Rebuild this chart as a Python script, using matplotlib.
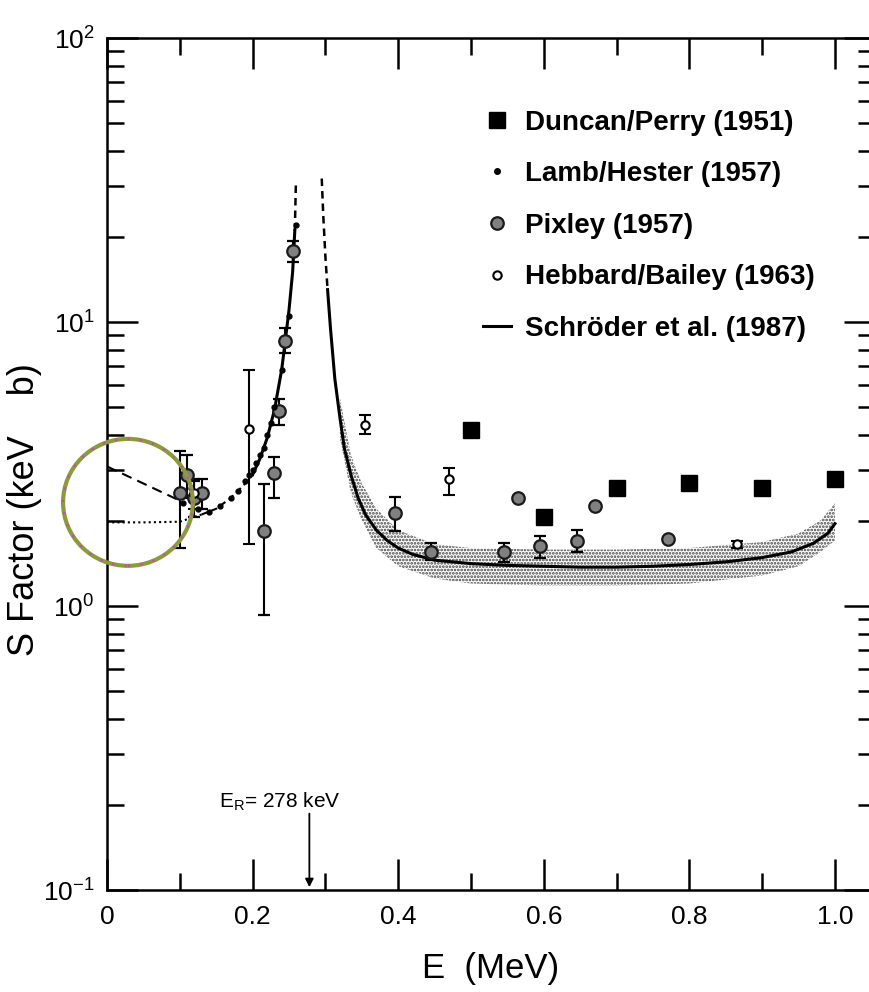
import matplotlib
matplotlib.use("Agg")
import matplotlib.pyplot as plt
from matplotlib.patches import Ellipse
from matplotlib.lines import Line2D
from matplotlib.ticker import MultipleLocator, LogLocator, NullFormatter

plt.rcParams['font.family'] = ['Liberation Sans', 'DejaVu Sans']
plt.rcParams['mathtext.default'] = 'regular'
plt.rcParams['hatch.linewidth'] = 1.3

# Duncan/Perry (1951)
duncan_E = [0.5, 0.6, 0.7, 0.8, 0.9, 1.0]
duncan_S = [4.15, 2.05, 2.6, 2.7, 2.6, 2.8]

# Lamb/Hester (1957)
lamb_E = [0.105, 0.115, 0.125, 0.14, 0.155, 0.17, 0.18, 0.19, 0.195, 0.2,
          0.205, 0.21, 0.215, 0.22, 0.225, 0.23, 0.24, 0.25, 0.26]
lamb_S = [2.3, 2.6, 2.2, 2.15, 2.25, 2.4, 2.55, 2.75, 2.9, 3.0,
          3.2, 3.4, 3.6, 4.0, 4.4, 5.0, 6.8, 10.5, 22.0]

# Pixley (1957)
pixley_E = [0.10, 0.11, 0.12, 0.13, 0.215, 0.229, 0.236, 0.245, 0.255,
            0.395, 0.445, 0.545, 0.565, 0.595, 0.645, 0.67, 0.77]
pixley_S = [2.5, 2.9, 2.4, 2.5, 1.83, 2.95, 4.85, 8.6, 17.8,
            2.12, 1.55, 1.55, 2.4, 1.62, 1.7, 2.25, 1.72]
pixley_lo = [0.9, 0.5, 0.35, 0.3, 0.9, 0.55, 0.5, 0.8, 1.5,
             0.28, 0.1, 0.12, 0.0, 0.15, 0.15, 0.0, 0.0]
pixley_hi = [1.0, 0.5, 0.35, 0.3, 0.86, 0.4, 0.5, 0.9, 1.5,
             0.3, 0.12, 0.12, 0.0, 0.15, 0.15, 0.0, 0.0]

# Hebbard/Bailey (1963)
hebbard_E = [0.12, 0.195, 0.355, 0.47, 0.865]
hebbard_S = [2.5, 4.2, 4.35, 2.8, 1.65]
hebbard_lo = [0.3, 2.55, 0.32, 0.35, 0.05]
hebbard_hi = [0.3, 2.6, 0.36, 0.26, 0.05]

# Schroder et al. (1987) fit
fit_dot_E = [0.0, 0.05, 0.10, 0.13]
fit_dot_S = [1.97, 1.97, 1.98, 2.1]
fit_dash_E = [0.13, 0.15, 0.17, 0.19, 0.2]
fit_dash_S = [2.1, 2.2, 2.4, 2.7, 2.9]
fit_left_E = [0.2, 0.21, 0.22, 0.23, 0.24, 0.25, 0.255, 0.258]
fit_left_S = [2.9, 3.3, 3.9, 4.9, 6.8, 11.0, 15.0, 21.0]
peak_left_E = [0.258, 0.2595]
peak_left_S = [21.0, 31.0]
peak_right_E = [0.295, 0.297, 0.30, 0.303]
peak_right_S = [32.0, 24.0, 17.0, 13.0]
fit_right_E = [0.303, 0.307, 0.313, 0.32, 0.326, 0.335, 0.345, 0.355, 0.37,
               0.385, 0.40, 0.42, 0.45, 0.5, 0.55, 0.6, 0.65, 0.7, 0.75,
               0.8, 0.85, 0.9, 0.94, 0.97, 0.99, 1.0]
fit_right_S = [13.0, 9.5, 6.3, 4.6, 3.6, 2.9, 2.4, 2.1, 1.85,
               1.7, 1.6, 1.52, 1.45, 1.41, 1.39, 1.38, 1.37, 1.37, 1.38,
               1.40, 1.43, 1.48, 1.55, 1.66, 1.8, 1.95]
extrap_E = [0.0, 0.05, 0.1]
extrap_S = [3.1, 2.7, 2.35]

# uncertainty band
band_E = [0.32, 0.335, 0.35, 0.37, 0.40, 0.45, 0.5, 0.6, 0.7, 0.8, 0.9, 0.95, 0.98, 1.0]
band_hi = [5.4, 3.4, 2.7, 2.2, 1.85, 1.65, 1.6, 1.58, 1.58, 1.6, 1.68, 1.8, 2.0, 2.3]
band_lo = [3.9, 2.5, 2.0, 1.6, 1.38, 1.25, 1.2, 1.18, 1.18, 1.2, 1.28, 1.38, 1.55, 1.7]

E_R = 0.278

fig = plt.figure(figsize=(8.7, 9.92), dpi=100)
ax = fig.add_axes([107 / 870, 102 / 992, 768 / 870, 852 / 992])

ax.fill_between(band_E, band_lo, band_hi, facecolor='none', edgecolor='0.25',
                hatch='.....', linewidth=0)

ax.plot(fit_dot_E, fit_dot_S, color='k', lw=1.5, ls=(0, (1, 1.5)))
ax.plot(fit_dash_E, fit_dash_S, color='k', lw=1.5, ls=(0, (3, 2)))
ax.plot(extrap_E, extrap_S, color='k', lw=1.5, ls=(0, (5, 3)))
ax.plot(fit_left_E, fit_left_S, color='k', lw=2.2)
ax.plot(peak_left_E, peak_left_S, color='k', lw=1.8, ls=(0, (3, 2)))
ax.plot(peak_right_E, peak_right_S, color='k', lw=1.8, ls=(0, (3, 2)))
ax.plot(fit_right_E, fit_right_S, color='k', lw=2.2)

ax.errorbar(pixley_E, pixley_S, yerr=[pixley_lo, pixley_hi], fmt='o', ms=9,
            mfc='0.5', mec='0.1', mew=1.6, ecolor='k', elinewidth=1.5,
            capsize=4, capthick=1.5, zorder=4)
ax.errorbar(hebbard_E, hebbard_S, yerr=[hebbard_lo, hebbard_hi], fmt='o', ms=6,
            mfc='white', mec='k', mew=1.5, ecolor='k', elinewidth=1.5,
            capsize=4, capthick=1.5, zorder=4)
ax.plot(lamb_E, lamb_S, 'o', ms=3.5, color='k', ls='none', zorder=5)
ax.plot(duncan_E, duncan_S, 's', ms=11, color='k', ls='none', zorder=5)

# highlighted low-energy region
ax.add_patch(Ellipse((0.0273, 0.455), 0.169, 0.149, transform=ax.transAxes,
                     fill=False, edgecolor='#8c9a3c', lw=3, clip_on=False, zorder=6))
ax.add_patch(Ellipse((0.0273, 0.455), 0.169, 0.149, transform=ax.transAxes,
                     fill=False, edgecolor='#d040c0', lw=1.5, ls=(0, (1, 5)),
                     clip_on=False, zorder=7))

ax.annotate('', xy=(E_R, 0.1), xytext=(E_R, 0.19),
            arrowprops=dict(arrowstyle='-|>', color='k', lw=1.3, mutation_scale=12))
ax.text(0.238, 0.205, r'E$_{R}$= 278 keV', fontsize=15, ha='center', va='center')

ax.set_yscale('log')
ax.set_xlim(0, 1.055)
ax.set_ylim(0.1, 100)
ax.set_xticks([0, 0.2, 0.4, 0.6, 0.8, 1.0])
ax.set_xticklabels(['0', '0.2', '0.4', '0.6', '0.8', '1.0'])
ax.xaxis.set_minor_locator(MultipleLocator(0.1))
ax.yaxis.set_minor_locator(LogLocator(base=10, subs=range(2, 10)))
ax.yaxis.set_minor_formatter(NullFormatter())
ax.tick_params(which='both', direction='in', top=True, right=True, width=1.8,
               labelsize=19)
ax.tick_params(which='major', length=22)
ax.tick_params(which='minor', length=12)
ax.tick_params(axis='y', pad=9)
ax.tick_params(axis='x', pad=11)
for s in ax.spines.values():
    s.set_linewidth(1.8)

ax.set_xlabel('E  (MeV)', fontsize=25)
ax.set_ylabel('S Factor (keV    b)', fontsize=26)
ax.xaxis.set_label_coords(0.5, -0.073)
ax.yaxis.set_label_coords(-0.085, 0.446)

# legend shows the markers only, as in the original figure
handles = [
    Line2D([], [], marker='s', ms=11, color='k', ls='none'),
    Line2D([], [], marker='o', ms=4, color='k', ls='none'),
    Line2D([], [], marker='o', ms=9, mfc='0.5', mec='0.1', mew=1.6, ls='none'),
    Line2D([], [], marker='o', ms=6, mfc='white', mec='k', mew=1.5, ls='none'),
    Line2D([], [], color='k', lw=2.2),
]
labels = ['Duncan/Perry (1951)', 'Lamb/Hester (1957)', 'Pixley (1957)',
          'Hebbard/Bailey (1963)', 'Schröder et al. (1987)']
leg = ax.legend(handles, labels, loc='upper left', bbox_to_anchor=(0.4895, 0.916),
                frameon=False, fontsize=20, handlelength=1.0, handletextpad=0.5,
                labelspacing=0.92, borderpad=0, borderaxespad=0)
for t in leg.get_texts():
    t.set_fontweight('bold')

fig.savefig('out.png', dpi=100)
